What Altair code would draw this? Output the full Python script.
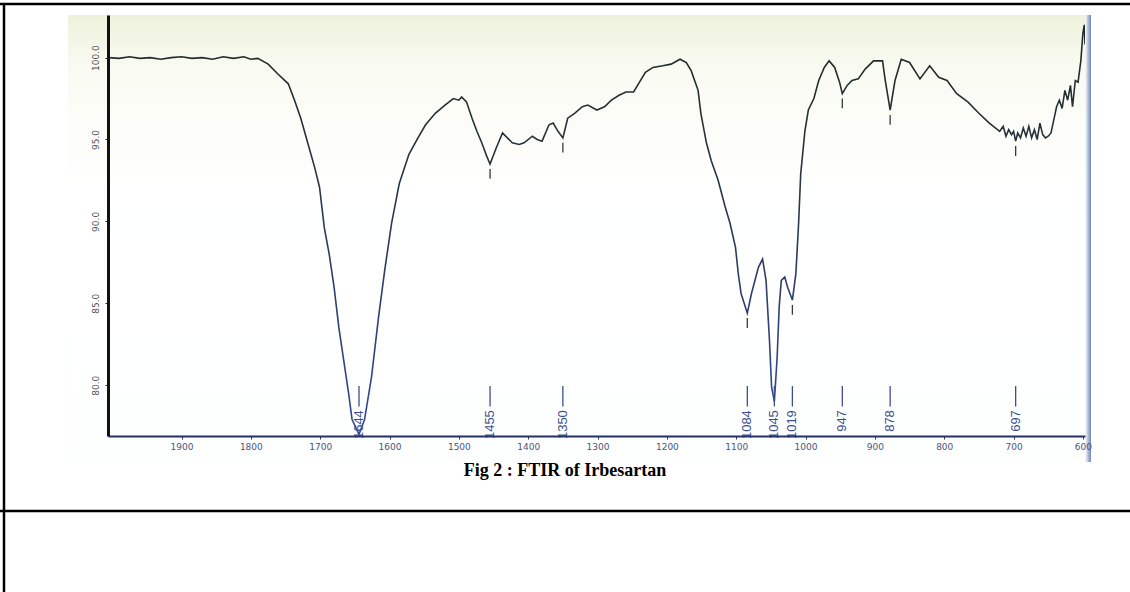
import altair as alt
import pandas as pd

# ---- spectrum data (wavenumber cm-1, %T) ----
wavenumber = [2005, 1990, 1975, 1960, 1945, 1930, 1915, 1900, 1885, 1870, 1855, 1840,
              1825, 1810, 1800, 1790, 1775, 1761, 1746, 1737, 1728, 1718, 1708, 1701,
              1694, 1687, 1680, 1673, 1666, 1659, 1654, 1644, 1636, 1626, 1616, 1607,
              1597, 1586, 1572, 1559, 1548, 1534, 1520, 1508, 1500, 1496, 1489, 1481,
              1474, 1467, 1460, 1455, 1446, 1437, 1430, 1423, 1413, 1406, 1394, 1387,
              1380, 1370, 1364, 1357, 1350, 1343, 1333, 1322, 1314, 1301, 1290, 1280,
              1269, 1259, 1248, 1241, 1231, 1220, 1206, 1194, 1181, 1172, 1165, 1155,
              1151, 1143, 1136, 1126, 1116, 1109, 1101, 1097, 1093, 1084, 1078, 1068,
              1062, 1057, 1052, 1049, 1045, 1041, 1038, 1035, 1030, 1026, 1019, 1014,
              1010, 1007, 1001, 996, 988, 981, 973, 966, 958, 951, 947, 940,
              933, 924, 914, 902, 889, 885, 878, 871, 862, 850, 835, 821,
              808, 796, 782, 766, 750, 735, 720, 715, 711, 707, 703, 700,
              697, 694, 690, 686, 682, 678, 674, 670, 666, 662, 658, 654,
              650, 646, 642, 638, 634, 630, 626, 622, 618, 615, 611, 607,
              603, 600, 598, 597]
transmittance = [100.0, 99.95, 100.05, 99.95, 100.0, 99.9, 100.0, 100.05, 99.95, 100.0, 99.9, 100.05,
                 99.95, 100.05, 99.9, 99.95, 99.6, 99.0, 98.4, 97.4, 96.3, 94.8, 93.3, 92.1,
                 89.6, 88.0, 86.0, 83.5, 81.5, 79.5, 77.9, 77.0, 77.9, 80.5, 84.1, 87.0,
                 89.9, 92.3, 94.1, 95.1, 95.9, 96.6, 97.1, 97.5, 97.4, 97.6, 97.3, 96.3,
                 95.5, 94.8, 94.0, 93.5, 94.5, 95.4, 95.1, 94.8, 94.7, 94.8, 95.2, 95.0,
                 94.9, 95.9, 96.0, 95.5, 95.1, 96.3, 96.6, 97.0, 97.1, 96.8, 97.0, 97.4,
                 97.7, 97.9, 97.9, 98.4, 99.1, 99.4, 99.5, 99.6, 99.9, 99.7, 99.2, 98.0,
                 96.6, 94.8, 93.7, 92.5, 90.9, 89.9, 88.4, 86.8, 85.6, 84.4, 85.6, 87.2,
                 87.7, 86.4, 82.7, 79.9, 79.0, 81.7, 84.8, 86.4, 86.6, 86.0, 85.2, 86.8,
                 89.9, 92.9, 95.5, 96.8, 97.5, 98.6, 99.4, 99.8, 99.4, 98.5, 97.8, 98.3,
                 98.6, 98.7, 99.3, 99.8, 99.8, 98.6, 96.8, 98.6, 99.9, 99.7, 98.7, 99.5,
                 98.8, 98.6, 97.8, 97.3, 96.6, 96.0, 95.5, 95.8, 95.2, 95.6, 95.3, 95.5,
                 94.9, 95.4, 95.1, 95.7, 95.2, 95.8, 95.1, 95.6, 95.0, 96.0, 95.3, 95.1,
                 95.2, 95.4, 96.2, 97.0, 97.4, 96.9, 98.0, 97.4, 98.3, 97.0, 98.6, 98.5,
                 99.8, 101.5, 102.0, 100.8]

# ---- labelled peaks ----
peak_wn = [1644, 1455, 1350, 1084, 1045, 1019, 947, 878, 697]
peak_T = [77.0, 93.5, 95.1, 84.4, 79.0, 85.2, 97.8, 96.8, 94.9]
peak_label = ["1644", "1455", "1350", "1084", "1045", "1019", "947", "878", "697"]

x_ticks = [600, 700, 800, 900, 1000, 1100, 1200, 1300, 1400, 1500, 1600, 1700, 1800, 1900]
y_ticks = [80, 85, 90, 95, 100]

spec = pd.DataFrame({"wn": wavenumber, "T": transmittance})
peaks = pd.DataFrame({"wn": peak_wn, "T": peak_T, "label": peak_label})

W, H = 977, 421
xs = alt.Scale(domain=[597, 2006], reverse=True, nice=False, zero=False)
ys = alt.Scale(domain=[76.9, 102.6], nice=False, zero=False)

ink = "#3b4f8f"

# photo-like backdrop
backdrop = alt.Chart(pd.DataFrame({"a": [0]})).mark_rect(
    fill=alt.Gradient(gradient="linear", x1=0, y1=0, x2=0, y2=1,
                      stops=[alt.GradientStop(offset=0, color="#eef2dc"),
                             alt.GradientStop(offset=0.12, color="#f9fbf2"),
                             alt.GradientStop(offset=0.4, color="#ffffff"),
                             alt.GradientStop(offset=1, color="#fdfefe")])
).encode(x=alt.value(-40), x2=alt.value(982), y=alt.value(0), y2=alt.value(447))

edge = alt.Chart(pd.DataFrame({"a": [0]})).mark_rect(
    fill=alt.Gradient(gradient="linear", x1=0, y1=0, x2=1, y2=0,
                      stops=[alt.GradientStop(offset=0, color="#ffffff"),
                             alt.GradientStop(offset=1, color="#6c84b8")])
).encode(x=alt.value(977), x2=alt.value(983), y=alt.value(0), y2=alt.value(447))

line = alt.Chart(spec).mark_line(
    strokeWidth=1.6, clip=True,
    color=alt.Gradient(gradient="linear", x1=0, y1=0, x2=0, y2=1,
                       stops=[alt.GradientStop(offset=0, color="#1f2a25"),
                              alt.GradientStop(offset=0.35, color="#28353f"),
                              alt.GradientStop(offset=1, color="#34499a")])
).encode(
    x=alt.X("wn:Q", scale=xs, title=None,
            axis=alt.Axis(values=x_ticks, format="d", labelFontSize=9, labelColor="#4a5580",
                          labelFont="DejaVu Sans", tickSize=3, tickColor="#2a356a",
                          domainColor="#24306a", domainWidth=2, labelPadding=3,
                          grid=False, labelFlush=False, zindex=2)),
    y=alt.Y("T:Q", scale=ys, title=None,
            axis=alt.Axis(values=y_ticks, format=".1f", labelAngle=270, labelAlign="center",
                          labelBaseline="bottom", labelFontSize=9, labelColor="#555555",
                          labelFont="DejaVu Sans", tickSize=3, tickColor="#222222",
                          domainColor="#111111", domainWidth=3, labelPadding=5, grid=False,
                          zindex=2))
)

markers = alt.Chart(peaks).mark_rule(color=ink, strokeWidth=1.3).encode(
    x=alt.X("wn:Q", scale=xs), y=alt.datum(79.95), y2=alt.datum(78.7))

dashes = alt.Chart(peaks).transform_filter("datum.T > 80").transform_calculate(
    d1="datum.T - 0.3", d2="datum.T - 0.9"
).mark_rule(color="#333a40", strokeWidth=1.3).encode(
    x=alt.X("wn:Q", scale=xs), y=alt.Y("d1:Q", scale=ys), y2="d2:Q")

labels = alt.Chart(peaks).mark_text(
    angle=270, align="right", baseline="middle", fontSize=13, color=ink,
    font="Liberation Sans Narrow, Liberation Sans", dx=-2
).encode(x=alt.X("wn:Q", scale=xs), y=alt.datum(78.6), text="label:N")

title = alt.Chart(pd.DataFrame({"t": ["Fig 2 :  FTIR of Irbesartan"]})).mark_text(
    font="Liberation Serif", fontWeight="bold", fontSize=18, color="#000000",
    align="center", baseline="middle"
).encode(x=alt.value(457), y=alt.value(456), text="t:N")

border = pd.DataFrame({"a": [0]})
top_line = alt.Chart(border).mark_rule(color="#000000", strokeWidth=2.5).encode(
    x=alt.value(-108), x2=alt.value(1022), y=alt.value(-11))
left_line = alt.Chart(border).mark_rule(color="#000000", strokeWidth=2.5).encode(
    x=alt.value(-104), y=alt.value(-12), y2=alt.value(577))
mid_line = alt.Chart(border).mark_rule(color="#000000", strokeWidth=2.5).encode(
    x=alt.value(-108), x2=alt.value(1022), y=alt.value(496))

chart = alt.layer(
    backdrop, edge, line, markers, dashes, labels, title, top_line, left_line, mid_line
).properties(
    width=W, height=H,
    padding={"left": 108, "top": 15, "right": 45, "bottom": 156},
    autosize=alt.AutoSizeParams(type="none"),
    background="#ffffff"
).configure_view(stroke=None)

chart.save("out.html", embed_options={"renderer": "svg", "actions": False})
